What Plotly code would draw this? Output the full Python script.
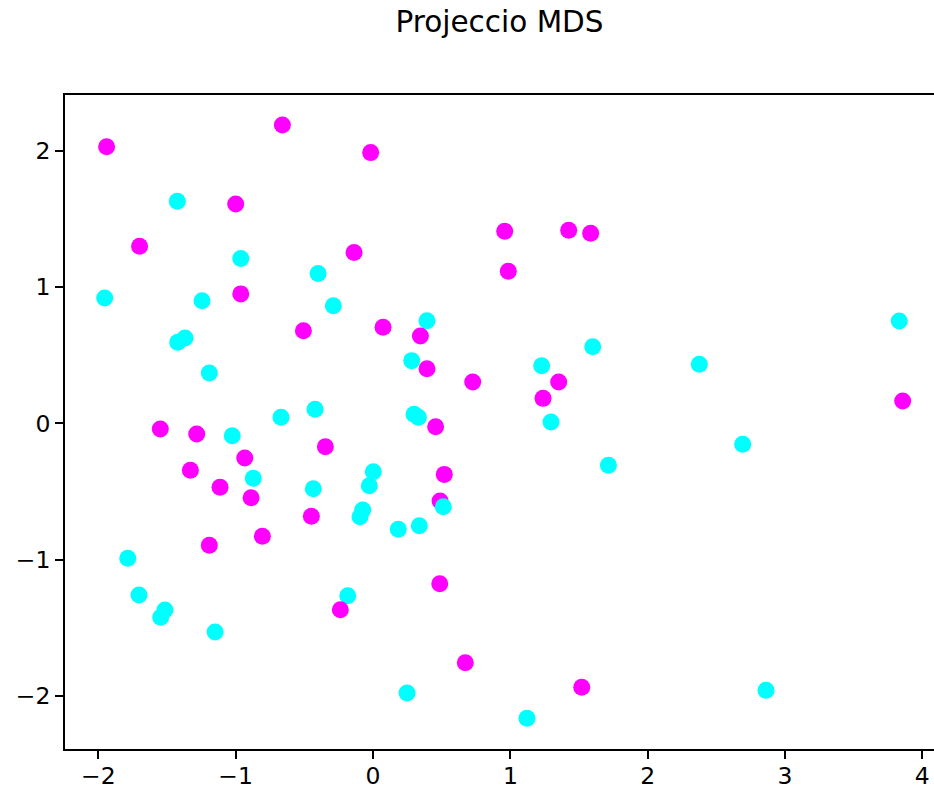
import plotly.graph_objects as go

# MDS projection coordinates, in drawing order
x_vals = [
    -1.425, -0.963, -0.400, -1.954, -1.245, -1.422, -1.369, -1.192, -0.289, 0.393,
    0.282, 1.228, 1.600, -0.422, 3.832, 2.376, -1.025, -0.670, -0.872, -0.435,
    -1.786, -1.704, -1.515, -1.546, -1.150, 0.299, 0.330, 1.296, 1.714, 0.002,
    -0.027, -0.075, -0.095, 0.184, 0.337, -0.184, 0.248, 1.121, 2.692, 2.862,
    -1.940, -0.660, -1.000, -1.700, -0.963, -0.507, -0.017, 0.959, 1.425, 1.585,
    0.985, -0.138, 0.073, 0.345, 0.393, 0.726, 1.352, 1.238, 3.857, -1.549,
    -1.284, -0.934, -1.330, -1.114, -0.888, -0.449, -0.806, -1.192, -0.347, 0.456,
    0.519, 0.488, 0.486, -0.238, 0.672, 1.520, 0.512,
]
y_vals = [
    1.630, 1.210, 1.100, 0.920, 0.900, 0.595, 0.626, 0.369, 0.863, 0.753,
    0.460, 0.423, 0.562, 0.103, 0.751, 0.433, -0.091, 0.044, -0.404, -0.480,
    -0.991, -1.261, -1.371, -1.424, -1.532, 0.066, 0.044, 0.010, -0.308, -0.355,
    -0.458, -0.637, -0.686, -0.778, -0.752, -1.266, -1.980, -2.166, -0.154, -1.960,
    2.030, 2.190, 1.610, 1.300, 0.950, 0.680, 1.987, 1.410, 1.417, 1.395,
    1.116, 1.253, 0.705, 0.641, 0.401, 0.303, 0.303, 0.183, 0.164, -0.042,
    -0.079, -0.255, -0.345, -0.470, -0.546, -0.683, -0.830, -0.896, -0.172, -0.025,
    -0.375, -0.570, -1.178, -1.368, -1.758, -1.938, -0.612,
]
groups = ["c"] * 40 + ["m"] * 36 + ["c"]

color_map = {"c": "#00FFFF", "m": "#FF00FF"}
colors = [color_map[g] for g in groups]

fig = go.Figure(
    go.Scatter(
        x=x_vals, y=y_vals, mode="markers",
        marker=dict(size=17, color=colors, line=dict(width=0)),
        showlegend=False,
    )
)

axis_common = dict(
    showgrid=False, zeroline=False, showline=True, linecolor="#000000", linewidth=1.6,
    ticks="outside", ticklen=8, tickwidth=1.6, tickcolor="#000000", automargin=False,
    tickfont=dict(family="DejaVu Sans", size=23.5, color="#000000"),
)

fig.update_layout(
    width=934, height=789,
    margin=dict(l=65, r=0, t=95, b=40),
    paper_bgcolor="white", plot_bgcolor="white",
    title=dict(
        text="Projeccio MDS", x=0.5, xref="paper", xanchor="center",
        y=1 - 22 / 789, yref="container", yanchor="middle",
        font=dict(family="DejaVu Sans", size=29.5, color="#000000"),
    ),
    xaxis=dict(range=[-2.243, 4.085], tickvals=[-2, -1, 0, 1, 2, 3, 4], mirror=True,
               ticklabelstandoff=-3, **axis_common),
    yaxis=dict(range=[-2.391, 2.410], tickvals=[-2, -1, 0, 1, 2], **axis_common),
)

fig.write_html("out.html")
